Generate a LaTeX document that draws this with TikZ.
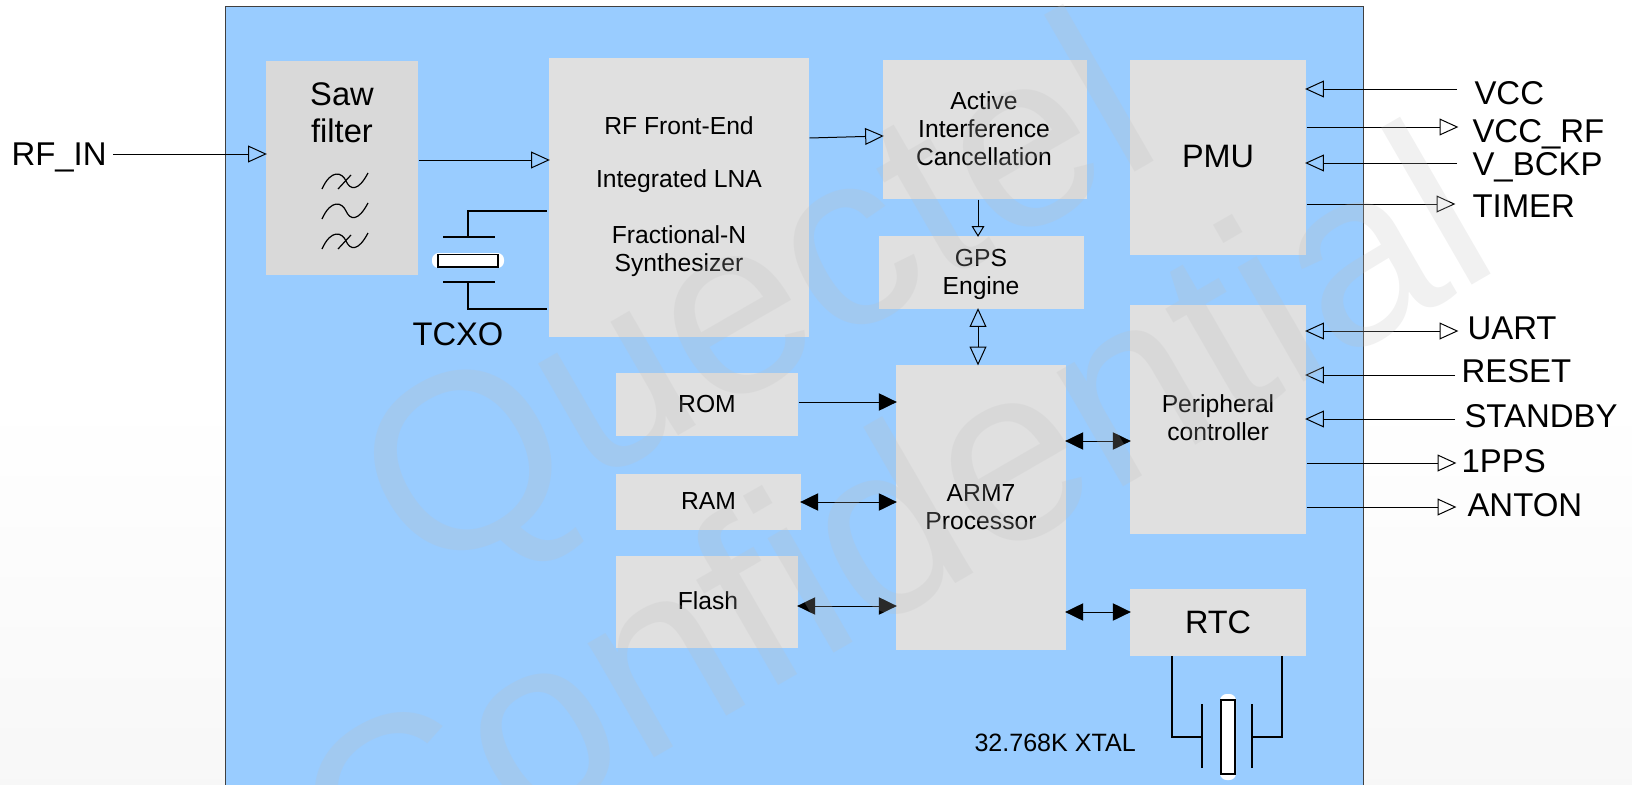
\documentclass[tikz,border=0pt]{standalone}
\usepackage{fontspec}
\setmainfont{Liberation Sans}
\usetikzlibrary{arrows.meta}
\definecolor{chipblue}{HTML}{99CCFF}
\definecolor{boxgray}{HTML}{E0E0E0}
\definecolor{sawgray}{HTML}{D9D9D9}
\begin{document}
\begin{tikzpicture}[x=0.75pt,y=-0.75pt,line width=0.75pt,
  blk/.style={fill=boxgray,inner sep=0pt,align=center,font=\fontsize{18.5}{21}\selectfont},
  blkbig/.style={blk,font=\fontsize{24.3}{27.5}\selectfont},
  sz/.style 2 args={minimum width=#1*0.75pt,minimum height=#2*0.75pt},
  txt/.style={inner sep=0pt,align=center,font=\fontsize{18.5}{21}\selectfont},
  pin/.style={anchor=base west,inner sep=0pt,font=\fontsize{24.7}{24.7}\selectfont},
  bigtxt/.style={anchor=base,inner sep=0pt,font=\fontsize{24.5}{24.5}\selectfont},
  opn/.style={->,shorten >=-1pt,>={Triangle[open,length=14pt,width=12.6pt]}},
  opnsmall/.style={->,shorten >=-1pt,>={Triangle[open,length=8pt,width=9.5pt]}},
  opnboth/.style={opn,<->,shorten <=-1pt},
  blackone/.style={->,shorten >=-1pt,>={Triangle[length=13.5pt,width=13pt]}},
  blackboth/.style={blackone,<->,shorten <=-1pt},
  wire/.style={line width=1pt},
  wave/.style={line width=0.9pt},
  xtalbody/.style={draw=black,line width=1pt,fill=white,inner sep=0pt},
  wmark/.style={anchor=base west,inner sep=0pt,rotate=30,text=gray!50,text opacity=0.22,
    font=\fontsize{187.5}{187.5}\selectfont}]
\useasboundingbox (0,0) rectangle (1632,785);
\clip (0,0) rectangle (1632,785);
% ================= page and chip =================
\shade[top color=white,bottom color=gray!6] (0,400) rectangle (1632,786);
\draw[fill=chipblue,draw=black!75,line width=0.6pt] (225,6) rectangle (1363,800);
% ================= blocks =================
\node[blkbig,fill=sawgray,sz={152}{214}] (saw) at (342,168) {};
\node[blk,sz={260}{279}] (rf) at (679,197.5) {};
\node[blk,sz={204}{139}] (aic) at (985,129.5) {};
\node[blk,sz={205}{73}] (gps) at (981.5,272.5) {};
\node[blkbig,sz={176}{195}] (pmu) at (1218,157) {PMU};
\node[blk,sz={176}{229}] (periph) at (1218,419.5) {};
\node[blk,sz={170}{285}] (arm) at (981,507) {ARM7\\Processor};
\node[blk,sz={182}{63}] (rom) at (707,404) {ROM};
\node[blk,sz={185}{56}] (ram) at (708.5,501.5) {RAM};
\node[blk,sz={182}{92}] (flash) at (707,601.5) {};
\node[blkbig,sz={176}{67}] (rtc) at (1218,622) {RTC};
% texts that sit off the block centre
\node[bigtxt] (sawname) at (342,105) {Saw};
\node[bigtxt] (sawname2) at (342,142.5) {filter};
\node[txt] (rfname) at (679,196.5) {RF Front-End\\[18.75pt]Integrated LNA\\[21pt]Fractional-N\\Synthesizer};
\node[txt] (aicname) at (984,128.5) {Active\\Interference\\Cancellation};
\node[txt] (gpsname) at (981,274.5) {GPS\\Engine};
\node[txt] (flashname) at (708,600.5) {Flash};
\node[txt] (periphname) at (1218,417.5) {Peripheral\\controller};
% filter symbols
\foreach \yy in {181,211,241} {
  \draw[wave] (322,\yy+8) .. controls (331,\yy-12) and (342,\yy-9) .. (346,\yy)
    .. controls (350,\yy+9) and (358,\yy+11) .. (368,\yy-8);
}
\foreach \yy in {181,241} {
  \draw[wave] (338,\yy+8) -- (351,\yy-6);
}
% ================= TCXO =================
\coordinate (tcxotop) at (468,237);
\coordinate (tcxobot) at (468,282);
\coordinate (tcxoa) at (547,211);
\coordinate (tcxob) at (547,309);
\fill[white,rounded corners=5pt] (432,253) rectangle (504,268);
\node[xtalbody,minimum width=45pt,minimum height=9.5pt] (tcxo) at (468,260.5) {};
\draw[wire] (443,237) -- (495,237);
\draw[wire] (443,282) -- (495,282);
\draw[wire] (tcxotop) |- (tcxoa);
\draw[wire] (tcxobot) |- (tcxob);
\node[bigtxt] (tcxoname) at (458,345) {TCXO};
% ================= 32.768K crystal =================
\coordinate (xtala) at (1202,737);
\coordinate (xtalb) at (1252,737);
\coordinate (rtcl) at (1172,0);
\coordinate (rtcr) at (1282,0);
\fill[white,rounded corners=5pt] (1220,694) rectangle (1236,780);
\node[xtalbody,minimum width=10.5pt,minimum height=55.5pt] (xtal) at (1228,737) {};
\draw[wire] (1202,704) -- (1202,768);
\draw[wire] (1252,704) -- (1252,768);
\draw[wire] (rtc.south -| rtcl) |- (xtala);
\draw[wire] (rtc.south -| rtcr) |- (xtalb);
\node[txt,anchor=base west,font=\fontsize{18.8}{21}\selectfont] (xtalname) at (974,751) {32.768K XTAL};
% ================= inner connectors =================
\coordinate (rfinend) at (113,154);
\node[pin] (rfin) at (11,165) {RF\_IN};
\draw[opn] (rfinend) -- (rfinend -| saw.west);
\draw[opn] ([yshift=6pt]saw.east) -- ([yshift=6pt]saw.east -| rf.west);
\coordinate (rfout) at (0,138);
\coordinate (aicin) at (0,136);
\draw[opn] (rf.east |- rfout) -- (aic.west |- aicin);
\coordinate (gpsx) at (978,0);
\draw[opnsmall] (aic.south -| gpsx) -- (gps.north -| gpsx);
\draw[opnboth] (gps.south -| gpsx) -- (arm.north -| gpsx);
\coordinate (romy) at (0,402);
\coordinate (ramy) at (0,502);
\coordinate (flashy) at (0,606);
\coordinate (periphy) at (0,441);
\coordinate (rtcy) at (0,612);
\draw[blackone] (rom.east |- romy) -- (arm.west |- romy);
\draw[blackboth] (ram.east |- ramy) -- (arm.west |- ramy);
\draw[blackboth] (flash.east |- flashy) -- (arm.west |- flashy);
\draw[blackboth] (arm.east |- periphy) -- (periph.west |- periphy);
\draw[blackboth] (arm.east |- rtcy) -- (rtc.west |- rtcy);
% ================= PMU pins =================
\node[pin] (vcc) at (1474,104) {VCC};
\node[pin] (vccrf) at (1472,142) {VCC\_RF};
\node[pin] (vbckp) at (1472,175) {V\_BCKP};
\node[pin] (timer) at (1472,217) {TIMER};
\coordinate (vccend) at (1457,89);
\coordinate (vccrfend) at (1457,127);
\coordinate (vbckpend) at (1457,163);
\coordinate (timerend) at (1454,204);
\draw[opn] (vccend) -- (vccend -| pmu.east);
\draw[opn] (vccrfend -| pmu.east) -- (vccrfend);
\draw[opn] (vbckpend) -- (vbckpend -| pmu.east);
\draw[opn] (timerend -| pmu.east) -- (timerend);
% ================= peripheral pins =================
\node[pin] (uart) at (1467,339) {UART};
\node[pin] (reset) at (1461,382) {RESET};
\node[pin] (standby) at (1464,427) {STANDBY};
\node[pin] (pps) at (1461,472) {1PPS};
\node[pin] (anton) at (1467,516) {ANTON};
\coordinate (uartend) at (1457,331);
\coordinate (resetend) at (1455,375);
\coordinate (standbyend) at (1455,419);
\coordinate (ppsend) at (1455,463);
\coordinate (antonend) at (1455,507);
\draw[opnboth] (uartend -| periph.east) -- (uartend);
\draw[opn] (resetend) -- (resetend -| periph.east);
\draw[opn] (standbyend) -- (standbyend -| periph.east);
\draw[opn] (ppsend -| periph.east) -- (ppsend);
\draw[opn] (antonend -| periph.east) -- (antonend);
% ================= watermark =================
\node[wmark] (wmone) at (422,584) {Quectel};
\node[wmark] (wmtwo) at (362,926) {Confidential};
\end{tikzpicture}
\end{document}
